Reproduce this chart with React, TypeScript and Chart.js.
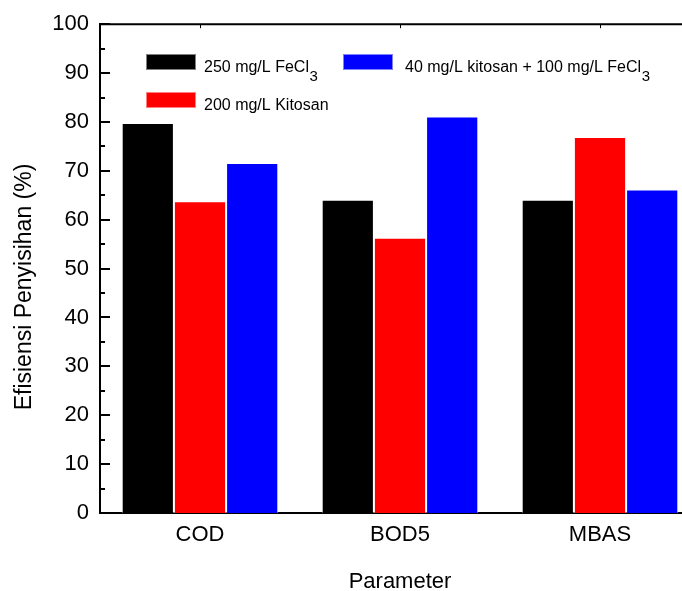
import React, { useEffect, useRef } from "react";
import { Chart, registerables } from "chart.js";

Chart.register(...registerables);

const categories = ["COD", "BOD5", "MBAS"];
const fecl3Values = [79.8, 64.1, 64.1];
const kitosanValues = [63.8, 56.3, 76.9];
const comboValues = [71.6, 81.1, 66.2];
const seriesLabels = ["250 mg/L FeCl3", "200 mg/L Kitosan", "40 mg/L kitosan + 100 mg/L FeCl3"];
const legendMain = ["250 mg/L FeCl", "200 mg/L Kitosan", "40 mg/L kitosan + 100 mg/L FeCl"];
const legendSub = ["3", "", "3"];
const seriesColors = ["#000000", "#ff0000", "#0000ff"];
const yTitle = "Efisiensi Penyisihan (%)";
const xTitle = "Parameter";

const FONT = '"Liberation Sans", Arial, sans-serif';

const decorPlugin = {
  id: "decor",
  afterDraw(chart: any) {
    const { ctx, chartArea } = chart;
    const { left, right, top, bottom } = chartArea;
    const yScale = chart.scales.y;
    const xScale = chart.scales.x;
    ctx.save();
    ctx.strokeStyle = "#000";
    ctx.lineWidth = 2;
    // frame top & right
    ctx.beginPath();
    ctx.moveTo(left - 1, top);
    ctx.lineTo(right, top);
    ctx.lineTo(right, bottom);
    ctx.stroke();
    // inward y ticks (major + minor)
    const ticks = yScale.ticks.map((t: any) => t.value);
    for (let i = 0; i < ticks.length; i++) {
      const v = ticks[i];
      const py = Math.round(yScale.getPixelForValue(v));
      ctx.beginPath();
      ctx.moveTo(left, py);
      ctx.lineTo(left + 10, py);
      ctx.stroke();
      if (i < ticks.length - 1) {
        const mv = (v + ticks[i + 1]) / 2;
        const pm = Math.round(yScale.getPixelForValue(mv));
        ctx.beginPath();
        ctx.moveTo(left, pm);
        ctx.lineTo(left + 5, pm);
        ctx.stroke();
      }
    }
    // small x ticks at top
    ctx.lineWidth = 1;
    for (let i = 0; i < categories.length; i++) {
      const px = Math.round(xScale.getPixelForValue(i)) + 0.5;
      ctx.beginPath();
      ctx.moveTo(px, top);
      ctx.lineTo(px, top + 4);
      ctx.stroke();
    }

    // legend
    const swatches = [
      { x: 146, y: 54, tx: 204, ty: 71.5 },
      { x: 146, y: 92, tx: 204, ty: 110 },
      { x: 343, y: 54, tx: 405, ty: 71.5 },
    ];
    for (let i = 0; i < 3; i++) {
      const s = swatches[i];
      ctx.fillStyle = seriesColors[i];
      ctx.fillRect(s.x, s.y, 50, 16);
      ctx.strokeStyle = "rgba(255,255,255,0.5)";
      ctx.lineWidth = 1;
      ctx.strokeRect(s.x + 0.5, s.y + 0.5, 49, 15);
      ctx.fillStyle = "#000";
      ctx.font = `16px ${FONT}`;
      ctx.textAlign = "left";
      ctx.textBaseline = "alphabetic";
      ctx.fillText(legendMain[i], s.tx, s.ty);
      if (legendSub[i]) {
        const w = ctx.measureText(legendMain[i]).width;
        ctx.font = `15px ${FONT}`;
        ctx.fillText(legendSub[i], s.tx + w + 0.5, s.ty + 9.5);
      }
    }

    // y title
    ctx.translate(31, 287);
    ctx.rotate(-Math.PI / 2);
    ctx.font = `23px ${FONT}`;
    ctx.fillStyle = "#000";
    ctx.textAlign = "center";
    ctx.textBaseline = "alphabetic";
    ctx.fillText(yTitle, 0, 0);
    ctx.restore();
  },
};

export default function App() {
  const ref = useRef<HTMLCanvasElement | null>(null);

  useEffect(() => {
    if (!ref.current) return;
    const barBorder = "rgba(255,255,255,0.6)";
    const chart = new Chart(ref.current, {
      type: "bar",
      data: {
        labels: categories,
        datasets: [
          { label: seriesLabels[0], data: fecl3Values, backgroundColor: seriesColors[0], borderColor: barBorder, borderWidth: 1 },
          { label: seriesLabels[1], data: kitosanValues, backgroundColor: seriesColors[1], borderColor: barBorder, borderWidth: 1 },
          { label: seriesLabels[2], data: comboValues, backgroundColor: seriesColors[2], borderColor: barBorder, borderWidth: 1 },
        ],
      },
      options: {
        responsive: false,
        animation: false,
        devicePixelRatio: 1,
        layout: { padding: { left: 0, top: 24, right: 20, bottom: 0 } },
        datasets: { bar: { categoryPercentage: 0.783, barPercentage: 1.0 } },
        plugins: { legend: { display: false }, tooltip: { enabled: false } },
        scales: {
          x: {
            grid: { display: false, drawTicks: false },
            border: { display: true, color: "#000", width: 2 },
            ticks: { color: "#000", padding: 9, font: { family: FONT, size: 22 } },
            title: { display: true, text: xTitle, color: "#000", font: { family: FONT, size: 22 }, padding: { top: 0, bottom: 5 } },
            afterFit(s: any) { s.height = 87; },
          },
          y: {
            min: 0,
            max: 100,
            grid: { display: false, drawTicks: false },
            border: { display: true, color: "#000", width: 2 },
            ticks: { stepSize: 10, color: "#000", padding: 11, font: { family: FONT, size: 22 } },
            afterFit(s: any) { s.width = 100; },
          },
        },
      },
      plugins: [decorPlugin],
    });
    return () => chart.destroy();
  }, []);

  return (
    <div style={{ position: "fixed", left: 0, top: 0, width: 682, height: 591, overflow: "hidden", background: "#fff" }}>
      <canvas ref={ref} width={720} height={600} style={{ display: "block" }} />
    </div>
  );
}
